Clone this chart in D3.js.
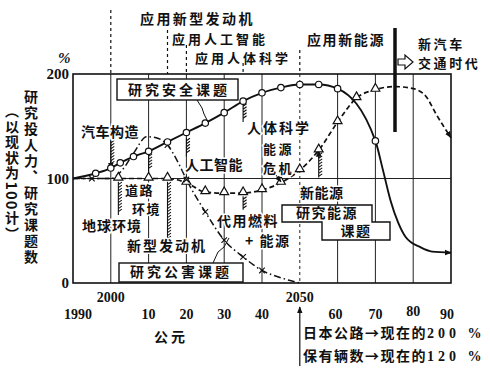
<!DOCTYPE html>
<html>
<head>
<meta charset="utf-8">
<script src="https://cdn.jsdelivr.net/npm/d3@7"></script>
<style>
body { margin: 0; background: #fff; }
svg text { font-family: "Noto Sans CJK SC", sans-serif; font-weight: 700; fill: #111; }
svg text.num { font-family: "Liberation Serif", serif; font-weight: 700; }
</style>
</head>
<body>
<svg id="chart" width="490" height="371"></svg>
<script>
// safety research (circles, solid)
var safetyYears  = [1990, 1996, 2000, 2002.5, 2006, 2010, 2015, 2020, 2025, 2030, 2035, 2040, 2045, 2050, 2055, 2060, 2070];
var safetyValues = [100, 105, 110, 115, 121, 126, 135, 144, 153, 163, 174, 182, 187, 190, 190, 186, 136];
var safetyTailYears  = [2072, 2074, 2076, 2078, 2082, 2085, 2090];
var safetyTailValues = [108, 79, 58, 44, 34, 30, 29];

// energy research (triangles, dashed)
var energyYears  = [1990, 2002, 2010, 2015, 2020, 2025, 2030, 2035, 2040, 2045, 2050, 2055, 2060, 2065, 2070];
var energyValues = [100, 100, 100, 100, 96, 87, 86, 86, 89, 96, 108, 127, 154, 177, 185];
var energyTailYears  = [2075, 2080, 2083.5, 2086, 2090];
var energyTailValues = [188, 186, 178, 162, 139];

// pollution research (crosses, dash-dot)
var pollutionYears  = [1990, 1995, 2000, 2003, 2006, 2009.5, 2012, 2015, 2018, 2020, 2025, 2030, 2035, 2040, 2045, 2050];
var pollutionValues = [100, 100, 100, 108, 124, 140, 139, 132, 114, 99, 68, 41, 25, 12, 5, 0];
var pollutionMarkYears = [1995, 2015, 2020, 2025, 2030, 2035, 2040];

var gridYears = [2000, 2010, 2020, 2030, 2040, 2050, 2060, 2070, 2080];
var yTicks = [0, 100, 200];
var xTicksTop = [2000, 2050];
var xTicksLow = [1990, 2010, 2020, 2030, 2040, 2060, 2070, 2080, 2090];
var xTickLowLabels = ["1990", "10", "20", "30", "40", "60", "70", "80", "90"];

var svg = d3.select("#chart");
var x = d3.scaleLinear().domain([1990, 2090]).range([73, 451]);
var y = d3.scaleLinear().domain([0, 200]).range([283, 74]);

var defs = svg.append("defs");
defs.append("marker").attr("id", "arr").attr("viewBox", "0 0 10 10").attr("refX", 9).attr("refY", 5)
  .attr("markerWidth", 7).attr("markerHeight", 7).attr("orient", "auto-start-reverse")
  .attr("markerUnits", "userSpaceOnUse")
  .append("path").attr("d", "M0,1 L10,5 L0,9 z").attr("fill", "#111");

// grid
svg.selectAll("line.grid").data(gridYears).enter().append("line")
  .attr("x1", function(d){ return x(d); }).attr("x2", function(d){ return x(d); })
  .attr("y1", y(200)).attr("y2", y(0))
  .attr("stroke", "#222").attr("stroke-width", 1)
  .attr("stroke-dasharray", function(d){ return d === 2050 ? "3,3" : null; });
svg.append("line").attr("x1", x(1990)).attr("x2", x(2090)).attr("y1", y(100)).attr("y2", y(100))
  .attr("stroke", "#222").attr("stroke-width", 1);
svg.append("rect").attr("x", x(1990)).attr("y", y(200)).attr("width", x(2090) - x(1990)).attr("height", y(0) - y(200))
  .attr("fill", "none").attr("stroke", "#111").attr("stroke-width", 1.6);

// top leaders
var leaders = [[2000, 10], [2015, 30], [2020, 45], [2035, 63], [2050, 50]];
leaders.forEach(function(l){
  svg.append("line").attr("x1", x(l[0])).attr("x2", x(l[0])).attr("y1", l[1]).attr("y2", y(200))
    .attr("stroke", "#111").attr("stroke-width", 1.2).attr("stroke-dasharray", "3,3");
});

// axis labels
svg.selectAll("text.yt").data(yTicks).enter().append("text").attr("class", "num")
  .attr("x", 69).attr("y", function(d){ return y(d) + 5; }).attr("text-anchor", "end")
  .attr("font-size", 15).text(function(d){ return d; });
svg.append("text").attr("class", "num").attr("x", 58).attr("y", 63).attr("font-size", 15)
  .attr("font-style", "italic").text("%");
svg.selectAll("text.xt1").data(xTicksTop).enter().append("text").attr("class", "num")
  .attr("x", function(d){ return x(d); }).attr("y", 302).attr("text-anchor", "middle")
  .attr("font-size", 14).text(function(d){ return d; });
svg.selectAll("text.xt2").data(xTicksLow).enter().append("text").attr("class", "num")
  .attr("x", function(d){ return x(d) + (d === 1990 ? 5 : d === 2090 ? -4 : d === 2060 ? -2 : 0); })
  .attr("y", function(d){ return d === 2080 ? 316 : 319; }).attr("text-anchor", "middle")
  .attr("font-size", 14).text(function(d, i){ return xTickLowLabels[i]; });
svg.append("text").attr("x", 171).attr("y", 342).attr("text-anchor", "middle").attr("font-size", 14)
  .attr("letter-spacing", 3).text("公元");

// y title (vertical)
svg.append("text").attr("x", 31).attr("y", 90).attr("font-size", 14).attr("letter-spacing", 2)
  .style("writing-mode", "vertical-rl").text("研究投人力、研究课题数");
svg.append("text").attr("x", 12).attr("y", 104).attr("font-size", 14).attr("letter-spacing", 1.5)
  .style("writing-mode", "vertical-rl").text("（以现状为100计）");

// hatched hangers
function hatch(yr, v1, v2, arrow) {
  var px = x(yr), t = y(v1), b = y(v2), d = "M" + px + "," + t + "L" + px + "," + b;
  for (var yy = t + 3; yy < b - 1; yy += 3) d += "M" + px + "," + yy + "l3.5,-2.5";
  svg.append("path").attr("d", d).attr("fill", "none").attr("stroke", "#111").attr("stroke-width", 1.1);
  if (arrow === "down") svg.append("line").attr("x1", px).attr("x2", px).attr("y1", b - 6).attr("y2", b + 2)
    .attr("stroke", "#111").attr("marker-end", "url(#arr)");
  if (arrow === "up") svg.append("line").attr("x1", px).attr("x2", px).attr("y1", t + 6).attr("y2", t - 2)
    .attr("stroke", "#111").attr("marker-end", "url(#arr)");
}
hatch(2000, 137, 111, "down");
hatch(2010, 124, 106);
hatch(2020, 139, 121);
hatch(2035, 172, 154);
hatch(2055, 125, 101, "up");
hatch(2002, 97, 65);
hatch(2015, 97, 40);
hatch(2035, 83, 70);

// series
var line = d3.line().x(function(d){ return x(d[0]); }).y(function(d){ return y(d[1]); }).curve(d3.curveMonotoneX);
var safety = d3.zip(safetyYears, safetyValues);
var safetyAll = safety.concat(d3.zip(safetyTailYears, safetyTailValues));
var energy = d3.zip(energyYears, energyValues);
var energyAll = energy.concat(d3.zip(energyTailYears, energyTailValues));
var pollution = d3.zip(pollutionYears, pollutionValues);

svg.append("path").attr("d", line(pollution)).attr("fill", "none").attr("stroke", "#111")
  .attr("stroke-width", 1.5).attr("stroke-dasharray", "7,3,1.5,3");
svg.append("path").attr("d", line(energyAll)).attr("fill", "none").attr("stroke", "#111")
  .attr("stroke-width", 1.7).attr("stroke-dasharray", "5,3").attr("marker-end", "url(#arr)");
svg.append("path").attr("d", line(safetyAll)).attr("fill", "none").attr("stroke", "#111")
  .attr("stroke-width", 1.9).attr("marker-end", "url(#arr)");

// markers
svg.selectAll("path.tri").data(energy.slice(1)).enter().append("path")
  .attr("d", d3.symbol().type(d3.symbolTriangle).size(34))
  .attr("transform", function(d){ return "translate(" + x(d[0]) + "," + (y(d[1]) - 1) + ")"; })
  .attr("fill", "#fff").attr("stroke", "#111").attr("stroke-width", 1.2);
svg.selectAll("path.cross").data(pollutionMarkYears).enter().append("path")
  .attr("d", d3.symbol().type(d3.symbolX).size(22))
  .attr("transform", function(d){ return "translate(" + x(d) + "," + y(pollutionValues[pollutionYears.indexOf(d)]) + ")"; })
  .attr("fill", "none").attr("stroke", "#111").attr("stroke-width", 1.1);
svg.selectAll("circle.c").data(safety.slice(1)).enter().append("circle")
  .attr("cx", function(d){ return x(d[0]); }).attr("cy", function(d){ return y(d[1]); }).attr("r", 3.2)
  .attr("fill", "#fff").attr("stroke", "#111").attr("stroke-width", 1.2);

// pointers
svg.append("path").attr("d", "M197,100 L202,108 L204,114 L208,122").attr("fill", "none").attr("stroke", "#111");
svg.append("path").attr("d", "M213,263 L218,252 L224,247 L229,238").attr("fill", "none").attr("stroke", "#111");
svg.append("line").attr("x1", 276).attr("y1", 175).attr("x2", 281).attr("y2", 182).attr("stroke", "#111")
  .attr("marker-end", "url(#arr)");

// boxes
svg.append("rect").attr("x", 117).attr("y", 79).attr("width", 121).attr("height", 21)
  .attr("fill", "#fff").attr("stroke", "#111").attr("stroke-width", 1.4);
svg.append("rect").attr("x", 119).attr("y", 263).attr("width", 124).attr("height", 19)
  .attr("fill", "#fff").attr("stroke", "#111").attr("stroke-width", 1.4);
svg.append("path").attr("d", "M282,205 L372,205 L372,222 L390,222 L390,240 L322,240 L322,222 L282,222 Z")
  .attr("fill", "#fff").attr("stroke", "#111").attr("stroke-width", 1.4);

// new-car era bar
svg.append("line").attr("x1", 395).attr("x2", 395).attr("y1", 28).attr("y2", 132).attr("stroke", "#111").attr("stroke-width", 3.5);
svg.append("path").attr("d", "M398,59 L405,59 L405,55 L413,62 L405,69 L405,65 L398,65 Z")
  .attr("fill", "#fff").attr("stroke", "#111").attr("stroke-width", 1.2);
svg.append("line").attr("x1", x(2050)).attr("x2", x(2050)).attr("y1", 366).attr("y2", 307)
  .attr("stroke", "#111").attr("stroke-width", 1.2).attr("marker-end", "url(#arr)");

// labels: text lines [text, x, baseline], letter-spacing, anchor, white halo, font size
var labels = [
  [[["应用新型发动机", 140, 24]], 2.4, "start", false, 14],
  [[["应用人工智能", 172, 44]], 3, "start", false, 13],
  [[["应用人体科学", 195, 63]], 3, "start", false, 13],
  [[["应用新能源", 307, 45]], 1.6, "start", false, 14],
  [[["新汽车", 418, 49], ["交通时代", 418, 68]], 2.6, "start", false, 13],
  [[["研究安全课题", 179, 95]], 3, "middle", false, 14],
  [[["汽车构造", 81, 137]], 0.5, "start", true, 14],
  [[["人工智能", 185, 170]], 0.5, "start", true, 14],
  [[["人体科学", 247, 133]], 2, "start", true, 14],
  [[["能源", 263, 154], ["危机", 263, 173]], 2.5, "start", true, 13],
  [[["道路", 125, 195], ["环境", 132, 214]], 1.5, "start", true, 13],
  [[["地球环境", 82, 231]], 1, "start", true, 14],
  [[["新型发动机", 127, 251]], 2, "start", true, 14],
  [[["研究公害课题", 181, 277]], 3, "middle", false, 14],
  [[["代用燃料", 217, 226], ["+ 能源", 245, 246]], 1.5, "start", true, 14],
  [[["新能源", 300, 198]], 0.5, "start", true, 14],
  [[["研究能源", 327, 218], ["课题", 356, 236]], 1.5, "middle", false, 14]
];
labels.forEach(function(l){
  var t = svg.append("text").attr("font-size", l[4]).attr("letter-spacing", l[1]).attr("text-anchor", l[2]);
  l[0].forEach(function(p){ t.append("tspan").attr("x", p[1]).attr("y", p[2]).text(p[0]); });
  if (l[3]) t.attr("stroke", "#fff").attr("stroke-width", 3).attr("paint-order", "stroke");
});

var notes = [["日本公路→现在的", "200 %", 338], ["保有辆数→现在的", "120 %", 361]];
notes.forEach(function(n){
  var t = svg.append("text").attr("x", 303).attr("y", n[2]).attr("font-size", 14).attr("letter-spacing", 1.5);
  t.append("tspan").text(n[0]);
  t.append("tspan").attr("font-family", "Liberation Serif").attr("letter-spacing", 4).text(n[1]);
});
</script>
</body>
</html>
